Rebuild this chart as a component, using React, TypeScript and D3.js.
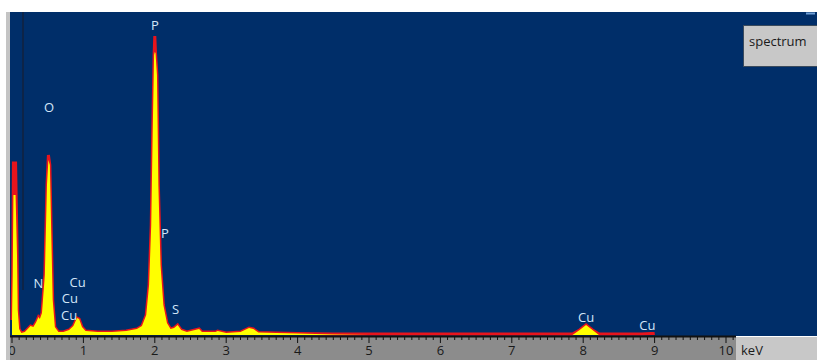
import React from "react";
import * as d3 from "d3";

// EDS spectrum: energy (keV) with measured counts (yellow) and the red overlay trace
const energy = [
  0.0, 0.01, 0.02, 0.05, 0.07, 0.08, 0.1, 0.13, 0.18, 0.22, 0.26, 0.3, 0.34, 0.37, 0.39, 0.42,
  0.46, 0.49, 0.51, 0.53, 0.55, 0.57, 0.6, 0.65, 0.72, 0.8, 0.86, 0.91, 0.94, 0.98, 1.03, 1.2,
  1.4, 1.6, 1.75, 1.82, 1.88, 1.92, 1.95, 1.97, 1.99, 2.0, 2.01, 2.03, 2.05, 2.08, 2.12, 2.17,
  2.22, 2.27, 2.32, 2.37, 2.45, 2.62, 2.66, 2.85, 2.88, 3.0, 3.2, 3.32, 3.38, 3.45, 3.7, 4.0,
  4.5, 5.0, 6.0, 7.0, 7.85, 7.95, 8.04, 8.13, 8.22, 8.5, 8.82, 8.95, 9.0,
];
const counts = [
  150, 600, 1400, 1400, 800, 250, 60, 20, 30, 60, 90, 80, 130, 180, 160, 220,
  600, 1500, 1750, 1700, 1000, 350, 80, 30, 30, 50, 90, 170, 160, 80, 40, 30,
  30, 40, 60, 90, 200, 500, 1100, 2000, 2800, 2830, 2820, 2600, 1500, 700, 300, 120,
  60, 70, 100, 50, 30, 60, 30, 30, 40, 20, 30, 70, 60, 25, 20, 15,
  5, 0, 0, 0, 0, 50, 100, 50, 0, 0, 0, 0, 0,
];
const overlay = [
  150, 600, 1720, 1720, 900, 250, 60, 20, 30, 60, 90, 80, 130, 180, 160, 220,
  600, 1500, 1800, 1700, 1000, 350, 80, 30, 30, 50, 90, 170, 160, 80, 40, 30,
  30, 40, 60, 90, 200, 500, 1100, 2000, 2800, 2990, 2820, 2600, 1500, 700, 300, 120,
  60, 70, 100, 50, 30, 60, 30, 30, 40, 20, 30, 70, 60, 25, 20, 15,
  10, 10, 10, 10, 10, 50, 100, 50, 10, 10, 10, 15, 15,
];

// Element peak labels
const labelText = ["P", "O", "N", "Cu", "Cu", "Cu", "P", "S", "Cu", "Cu"];
const labelEnergy = [2.0, 0.52, 0.37, 0.92, 0.81, 0.8, 2.14, 2.29, 8.04, 8.9];
const labelCount = [3050, 2230, 470, 480, 320, 150, 970, 210, 130, 50];

const majorTicks = [0, 1, 2, 3, 4, 5, 6, 7, 8, 9, 10];

const W = 817;
const H = 360;
const plotLeft = 10;
const plotTop = 12;
const plotBottom = 335;
const axisRight = 736;

export default function App() {
  const x = d3.scaleLinear().domain([0, 10]).range([12, 726]);
  const y = d3.scaleLinear().domain([0, 3300]).range([plotBottom, 5]);

  const pts = energy.map((e, i) => ({ e, c: counts[i], o: overlay[i] }));
  const overlayArea = d3
    .area<{ e: number; c: number; o: number }>()
    .x((d) => x(d.e))
    .y0(plotBottom)
    .y1((d) => y(d.o));
  const overlayLine = d3
    .line<{ e: number; c: number; o: number }>()
    .x((d) => x(d.e))
    .y((d) => y(d.o));
  const specArea = d3
    .area<{ e: number; c: number; o: number }>()
    .x((d) => x(d.e))
    .y0(plotBottom)
    .y1((d) => y(d.c));

  const minorTicks = d3.range(0, 102).map((v) => v / 10);

  const font = "'Open Sans', 'Noto Sans', sans-serif";

  return (
    <svg
      width={W}
      height={H}
      style={{ position: "absolute", left: 0, top: 0, background: "#ffffff" }}
    >
      <rect x={plotLeft} y={plotTop} width={W - plotLeft} height={plotBottom - plotTop + 1} fill="#002e69" />
      <line x1={806} x2={815} y1={13.5} y2={13.5} stroke="#6f9fd6" strokeWidth={2} />

      {/* energy marker */}
      <line x1={23} x2={23} y1={plotTop} y2={290} stroke="#0d2448" strokeWidth={2} />

      {/* spectrum traces */}
      <path d={overlayArea(pts) ?? ""} fill="#e8141c" />
      <path d={overlayLine(pts) ?? ""} fill="none" stroke="#e8141c" strokeWidth={3} />
      <path d={specArea(pts) ?? ""} fill="#ffff00" />

      {/* peak labels */}
      {labelText.map((t, i) => (
        <text
          key={i}
          x={x(labelEnergy[i])}
          y={y(labelCount[i])}
          textAnchor="middle"
          fontFamily={font}
          fontSize={13}
          fill="#d3e6f8"
        >
          {t}
        </text>
      ))}

      {/* legend box */}
      <rect x={743.5} y={25.5} width={80} height={41} fill="#c8c8c8" stroke="#3a4a5c" strokeWidth={1} />
      <text x={749} y={46} fontFamily={font} fontSize={13} fill="#1a1a1a">
        spectrum
      </text>

      {/* energy axis */}
      <rect x={plotLeft} y={plotBottom + 1} width={axisRight - plotLeft} height={H - plotBottom} fill="#8c8c8c" />
      <rect x={axisRight} y={plotBottom + 2} width={W - axisRight} height={H - plotBottom} fill="#c8c8c8" />
      <line x1={plotLeft} x2={axisRight} y1={plotBottom + 1.5} y2={plotBottom + 1.5} stroke="#111" strokeWidth={2} />
      {minorTicks.map((v) => (
        <line
          key={v}
          x1={x(v)}
          x2={x(v)}
          y1={plotBottom + 1}
          y2={plotBottom + (Math.abs(v - Math.round(v)) < 1e-6 ? 8 : 5)}
          stroke="#111"
          strokeWidth={1}
        />
      ))}
      {majorTicks.map((v) => (
        <text
          key={v}
          x={x(v)}
          y={355}
          textAnchor="middle"
          fontFamily={font}
          fontSize={13}
          fill="#1a1a1a"
        >
          {v}
        </text>
      ))}
      <text x={741} y={355} fontFamily={font} fontSize={13} fill="#1a1a1a">
        keV
      </text>

      {/* left frame edge */}
      <rect x={0} y={0} width={6} height={H} fill="#ffffff" />
      <rect x={6} y={plotTop} width={4} height={H - plotTop} fill="#c4c4c4" />
    </svg>
  );
}
